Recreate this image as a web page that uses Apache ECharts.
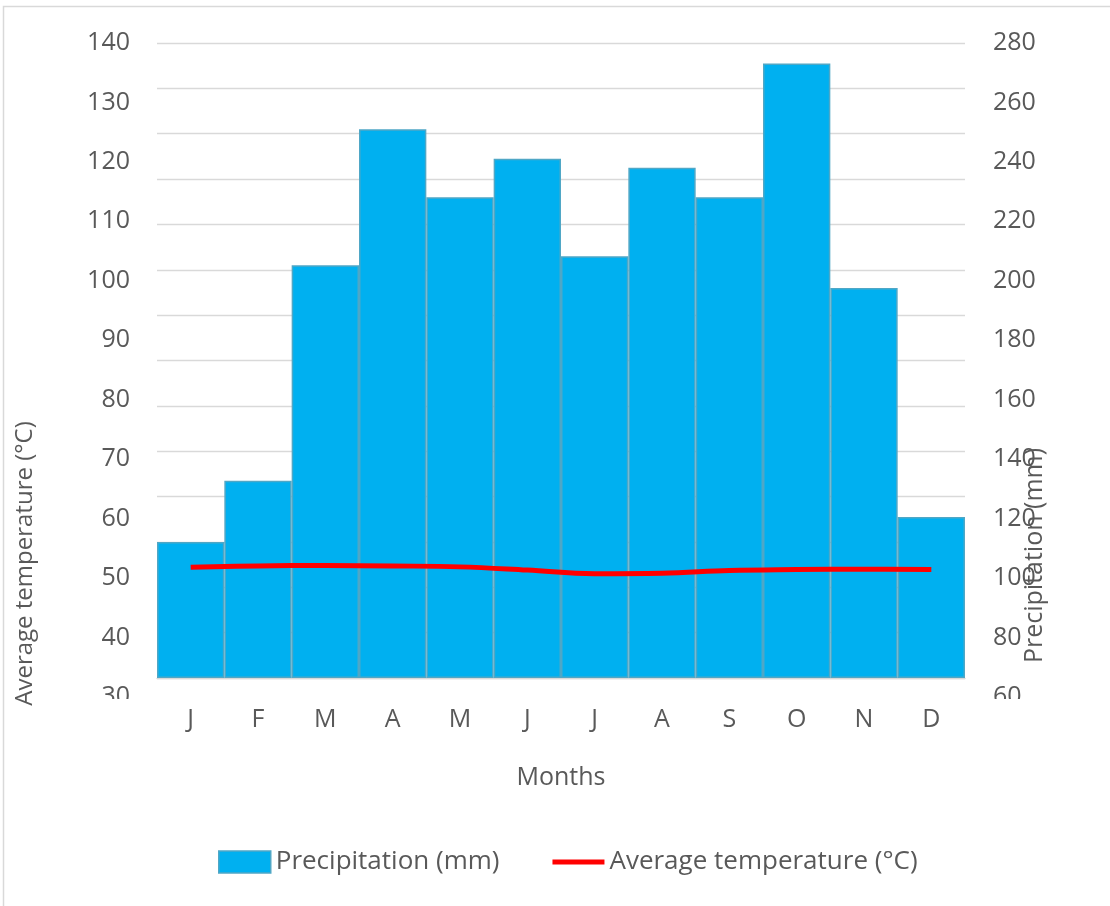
<!DOCTYPE html>
<html>
<head>
<meta charset="utf-8">
<script src="https://cdn.jsdelivr.net/npm/echarts@6/dist/echarts.min.js"></script>
<style>
html,body{margin:0;padding:0;background:#ffffff;}
#chart{width:1110px;height:906px;}
</style>
</head>
<body>
<div id="chart"></div>
<script>
// ---- data ----
const months = ['J','F','M','A','M','J','J','A','S','O','N','D'];
const precipitation = [60, 87, 182, 242, 212, 229, 186, 225, 212, 271, 172, 71];
const temperature = [24.4, 24.7, 24.8, 24.7, 24.5, 23.8, 23.0, 23.1, 23.7, 23.9, 24.0, 23.9];
const tempTickLabels = [30, 40, 50, 60, 70, 80, 90, 100, 110, 120, 130, 140];
const precipTickLabels = [60, 80, 100, 120, 140, 160, 180, 200, 220, 240, 260, 280];
const tempScale = [0, 140, 10];
const precipScale = [0, 280, 20];

const FONT = 'Open Sans';
const TXT = '#595959';
const GRID = '#d9d9d9';

const chart = echarts.init(document.getElementById('chart'), null, {renderer: 'canvas'});

const hiddenAxisParts = {
  axisLine: {show: false}, axisTick: {show: false}, axisLabel: {show: false}, splitLine: {show: false}
};

const option = {
  animation: false,
  backgroundColor: '#ffffff',
  textStyle: {fontFamily: FONT, color: TXT},
  grid: [
    {left: 157, right: 145, top: 43, height: 635},
    {left: 157, right: 145, top: 43, height: 654},
    {left: 157, right: 145, top: 420, height: 287},
    {left: 157, right: 145, top: 412, height: 287}
  ],
  xAxis: [
    {
      gridIndex: 0, type: 'category', data: months, boundaryGap: true,
      axisLine: {show: true, lineStyle: {color: GRID, width: 1.3}},
      axisTick: {show: false},
      axisLabel: {color: TXT, fontSize: 25, fontFamily: FONT, margin: 29, interval: 0},
      name: 'Months', nameLocation: 'middle', nameGap: 87,
      nameTextStyle: {color: TXT, fontSize: 25, fontFamily: FONT}
    },
    {gridIndex: 1, type: 'category', data: months, show: false},
    {gridIndex: 2, type: 'category', data: months, show: false},
    {gridIndex: 3, type: 'category', data: months, show: false}
  ],
  yAxis: [
    {
      gridIndex: 0, type: 'value', min: tempScale[0], max: tempScale[1], interval: tempScale[2],
      axisLine: {show: false}, axisTick: {show: false}, axisLabel: {show: false},
      splitLine: {show: true, lineStyle: {color: GRID, width: 1.3}}
    },
    Object.assign({gridIndex: 0, type: 'value', position: 'right',
      min: precipScale[0], max: precipScale[1], interval: precipScale[2]}, hiddenAxisParts),
    {
      gridIndex: 1, type: 'value', position: 'left',
      min: tempTickLabels[0], max: tempTickLabels[tempTickLabels.length - 1],
      interval: tempTickLabels[1] - tempTickLabels[0],
      axisLine: {show: false}, axisTick: {show: false}, splitLine: {show: false},
      axisLabel: {color: TXT, fontSize: 25, fontFamily: FONT, margin: 27}
    },
    {
      gridIndex: 1, type: 'value', position: 'right',
      min: precipTickLabels[0], max: precipTickLabels[precipTickLabels.length - 1],
      interval: precipTickLabels[1] - precipTickLabels[0],
      axisLine: {show: false}, axisTick: {show: false}, splitLine: {show: false},
      axisLabel: {color: TXT, fontSize: 25, fontFamily: FONT, margin: 28}
    },
    Object.assign({
      gridIndex: 2, type: 'value', position: 'left', min: 0, max: 1,
      name: 'Average temperature (°C)', nameLocation: 'middle', nameRotate: 90, nameGap: 120,
      nameTextStyle: {color: TXT, fontSize: 24, fontFamily: FONT}
    }, hiddenAxisParts),
    Object.assign({
      gridIndex: 3, type: 'value', position: 'right', min: 0, max: 1,
      name: 'Precipitation (mm)', nameLocation: 'middle', nameRotate: 90, nameGap: 57,
      nameTextStyle: {color: TXT, fontSize: 25, fontFamily: FONT}
    }, hiddenAxisParts)
  ],
  legend: {
    left: 213, top: 844, itemWidth: 52, itemHeight: 22, itemGap: 53,
    textStyle: {color: TXT, fontSize: 26, fontFamily: FONT},
    data: [
      {name: 'Precipitation (mm)', icon: 'rect',
        itemStyle: {color: '#00B0F0', borderColor: '#4FA7C6', borderWidth: 1.5}},
      {name: 'Average temperature (°C)', icon: 'path://M0,0H52V5H0Z',
        itemStyle: {color: '#FF0000', borderWidth: 0}}
    ]
  },
  series: [
    {
      type: 'bar', name: 'Precipitation (mm)', xAxisIndex: 0, yAxisIndex: 1,
      data: precipitation, barCategoryGap: '0%', barGap: '0%',
      itemStyle: {color: '#00B0F0', borderColor: '#4FA7C6', borderWidth: 1.5}
    },
    {
      type: 'line', name: 'Average temperature (°C)', xAxisIndex: 0, yAxisIndex: 0,
      data: temperature, smooth: 0.4, symbol: 'none', z: 5,
      lineStyle: {color: '#FF0000', width: 5}, itemStyle: {color: '#FF0000'}
    }
  ],
  graphic: [
    {type: 'rect', z: 100, silent: true, shape: {x: 3.5, y: 6.5, width: 1200, height: 1000},
      style: {fill: 'none', stroke: GRID, lineWidth: 1.5}},
    {type: 'rect', z: 100, silent: true, shape: {x: 60, y: 699, width: 95, height: 20},
      style: {fill: '#ffffff'}},
    {type: 'rect', z: 100, silent: true, shape: {x: 972, y: 699, width: 100, height: 20},
      style: {fill: '#ffffff'}}
  ]
};

chart.setOption(option);
</script>
</body>
</html>
